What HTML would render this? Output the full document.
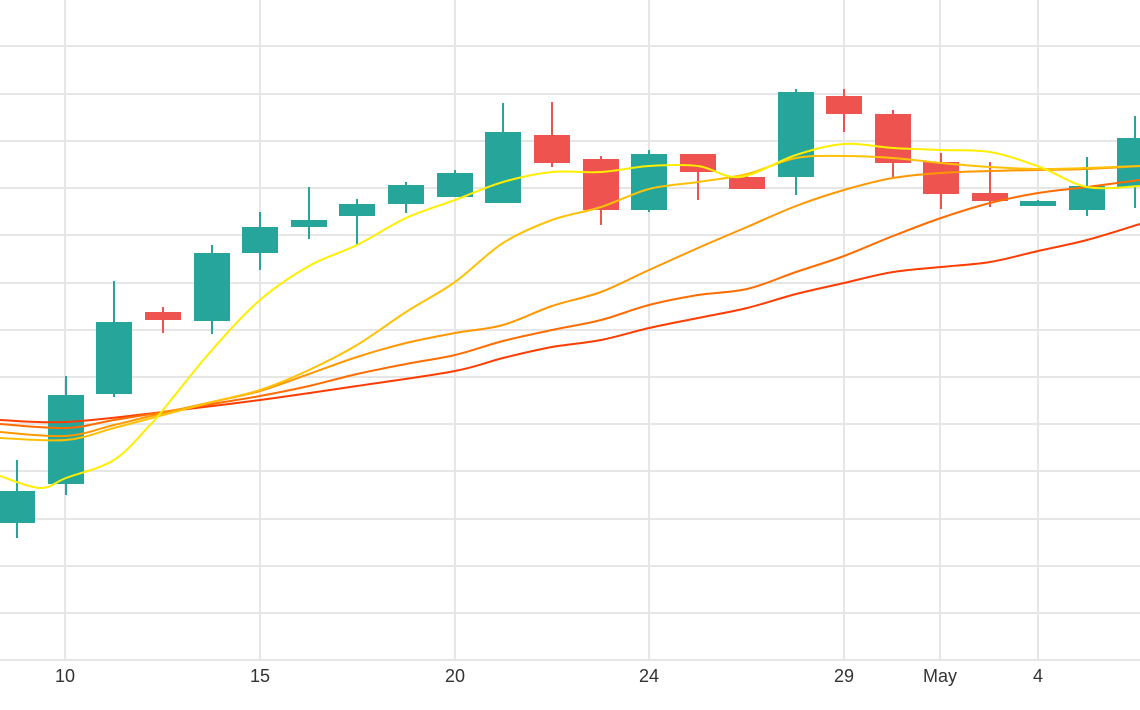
<!DOCTYPE html>
<html><head><style>
html,body{margin:0;padding:0;background:#fff;}
svg{display:block;}
text{font-family:"Liberation Sans",sans-serif;font-size:18px;fill:#333;}
</style></head><body>
<svg id="c" width="1140" height="710" xmlns="http://www.w3.org/2000/svg">
<g stroke="#e6e6e6" stroke-width="2">
<line x1="0" y1="46" x2="1140" y2="46"/><line x1="0" y1="94" x2="1140" y2="94"/>
<line x1="0" y1="141" x2="1140" y2="141"/><line x1="0" y1="188" x2="1140" y2="188"/>
<line x1="0" y1="235" x2="1140" y2="235"/><line x1="0" y1="283" x2="1140" y2="283"/>
<line x1="0" y1="330" x2="1140" y2="330"/><line x1="0" y1="377" x2="1140" y2="377"/>
<line x1="0" y1="424" x2="1140" y2="424"/><line x1="0" y1="471" x2="1140" y2="471"/>
<line x1="0" y1="519" x2="1140" y2="519"/><line x1="0" y1="566" x2="1140" y2="566"/>
<line x1="0" y1="613" x2="1140" y2="613"/><line x1="0" y1="660" x2="1140" y2="660"/>
<line x1="65" y1="0" x2="65" y2="660"/><line x1="260" y1="0" x2="260" y2="660"/>
<line x1="455" y1="0" x2="455" y2="660"/><line x1="649" y1="0" x2="649" y2="660"/>
<line x1="844" y1="0" x2="844" y2="660"/><line x1="940" y1="0" x2="940" y2="660"/>
<line x1="1038" y1="0" x2="1038" y2="660"/>
</g>
<g stroke-width="2">
<g stroke="#26a69a" fill="#26a69a">
<line x1="17" y1="460" x2="17" y2="538"/><rect x="0" y="492" width="34" height="30"/>
<line x1="66" y1="376" x2="66" y2="495"/><rect x="49" y="396" width="34" height="87"/>
<line x1="114" y1="281" x2="114" y2="397"/><rect x="97" y="323" width="34" height="70"/>
<line x1="212" y1="245" x2="212" y2="334"/><rect x="195" y="254" width="34" height="66"/>
<line x1="260" y1="212" x2="260" y2="270"/><rect x="243" y="228" width="34" height="24"/>
<line x1="309" y1="187" x2="309" y2="239"/><rect x="292" y="221" width="34" height="5"/>
<line x1="357" y1="199" x2="357" y2="245"/><rect x="340" y="205" width="34" height="10"/>
<line x1="406" y1="182" x2="406" y2="213"/><rect x="389" y="186" width="34" height="17"/>
<line x1="455" y1="170" x2="455" y2="196"/><rect x="438" y="174" width="34" height="22"/>
<line x1="503" y1="103" x2="503" y2="202"/><rect x="486" y="133" width="34" height="69"/>
<line x1="649" y1="150" x2="649" y2="212"/><rect x="632" y="155" width="34" height="54"/>
<line x1="796" y1="89" x2="796" y2="195"/><rect x="779" y="93" width="34" height="83"/>
<line x1="1038" y1="200" x2="1038" y2="206"/><rect x="1021" y="202" width="34" height="3"/>
<line x1="1087" y1="157" x2="1087" y2="216"/><rect x="1070" y="187" width="34" height="22"/>
<line x1="1135" y1="116" x2="1135" y2="208"/><rect x="1118" y="139" width="34" height="47"/>
</g>
<g stroke="#ef5350" fill="#ef5350">
<line x1="163" y1="307" x2="163" y2="333"/><rect x="146" y="313" width="34" height="6"/>
<line x1="552" y1="102" x2="552" y2="167"/><rect x="535" y="136" width="34" height="26"/>
<line x1="601" y1="156" x2="601" y2="225"/><rect x="584" y="160" width="34" height="49"/>
<line x1="698" y1="155" x2="698" y2="200"/><rect x="681" y="155" width="34" height="16"/>
<line x1="747" y1="175" x2="747" y2="188"/><rect x="730" y="178" width="34" height="10"/>
<line x1="844" y1="89" x2="844" y2="132"/><rect x="827" y="97" width="34" height="16"/>
<line x1="893" y1="110" x2="893" y2="177"/><rect x="876" y="115" width="34" height="47"/>
<line x1="941" y1="153" x2="941" y2="209"/><rect x="924" y="163" width="34" height="30"/>
<line x1="990" y1="162" x2="990" y2="207"/><rect x="973" y="194" width="34" height="6"/>
</g>
</g>
<g id="ma" fill="none" stroke-width="2" stroke-linejoin="round">
<polyline stroke="#ff3d00" points="0,420 66,422 163,412 260,400 357,386 455,371 503,358 552,347 601,340 649,328 698,318 747,308 796,294 844,283 893,272 941,267 990,262 1038,251 1087,240 1140,224"/>
<polyline stroke="#ff6d00" points="0,424 66,428 114,420 163,412 212,404 260,396 309,386 357,374 406,364 455,355 503,341 552,330 601,320 649,305 698,295 747,289 796,272 844,256 893,236 941,218 990,203 1038,193 1087,187 1140,180"/>
<polyline stroke="#ff9800" points="0,432 66,436 114,425 163,413 212,402 260,391 309,374 357,357 406,343 455,333 503,325 552,306 601,292 649,270 698,248 747,227 796,206 844,190 893,178 941,173 990,171 1038,170 1087,169 1140,166"/>
<polyline stroke="#ffc107" points="0,438 66,440 114,428 163,415 212,402 260,390 309,370 357,345 406,312 455,282 503,243 552,220 601,207 649,189 698,182 747,174 796,158 844,156 893,158 941,163 990,167 1038,169 1087,168 1140,166"/>
<polyline stroke="#ffee00" points="0,476 40,488 66,478 114,460 150,425 163,410 212,350 260,300 309,266 357,245 406,218 455,200 503,182 552,172 601,172 649,166 698,166 740,177 796,155 844,144 893,148 941,150 990,152 1040,167 1087,187 1140,186"/>
</g>
<g text-anchor="middle">
<text x="65" y="682">10</text><text x="260" y="682">15</text><text x="455" y="682">20</text>
<text x="649" y="682">24</text><text x="844" y="682">29</text><text x="940" y="682">May</text>
<text x="1038" y="682">4</text>
</g>
</svg>
<script>
(function(){
var NS="http://www.w3.org/2000/svg";
var pls=document.querySelectorAll("#ma polyline");
for(var k=0;k<pls.length;k++){
var pl=pls[k];
var pts=pl.getAttribute("points").trim().split(/\s+/).map(function(s){var a=s.split(",");return [+a[0],+a[1]];});
var d="M"+pts[0][0]+","+pts[0][1];
for(var i=0;i<pts.length-1;i++){
var p0=pts[i-1]||pts[i],p1=pts[i],p2=pts[i+1],p3=pts[i+2]||p2;
var c1x=p1[0]+(p2[0]-p0[0])/6,c1y=p1[1]+(p2[1]-p0[1])/6;
var c2x=p2[0]-(p3[0]-p1[0])/6,c2y=p2[1]-(p3[1]-p1[1])/6;
d+=" C"+c1x.toFixed(1)+","+c1y.toFixed(1)+" "+c2x.toFixed(1)+","+c2y.toFixed(1)+" "+p2[0]+","+p2[1];
}
var p=document.createElementNS(NS,"path");
p.setAttribute("d",d);p.setAttribute("stroke",pl.getAttribute("stroke"));
pl.parentNode.replaceChild(p,pl);
}
})();
</script>
</body></html>
